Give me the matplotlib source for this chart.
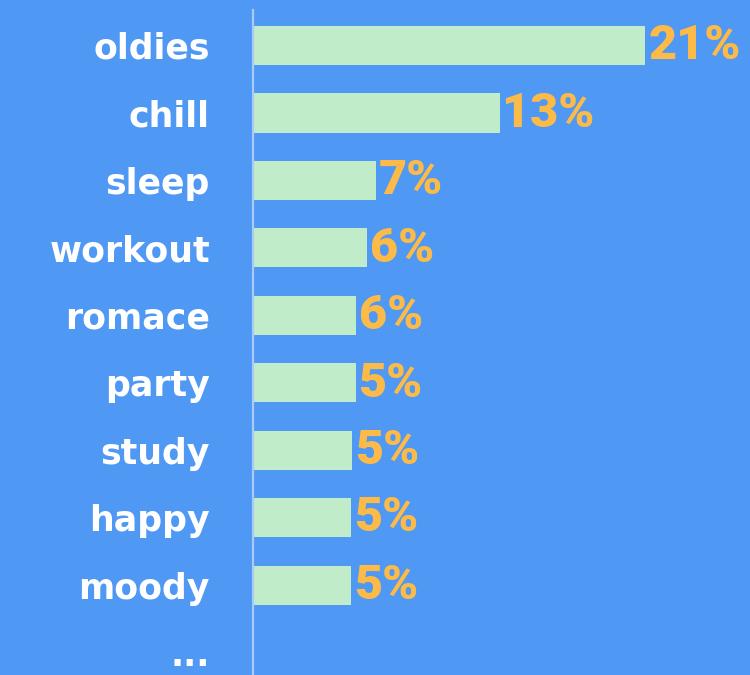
import matplotlib
matplotlib.use('Agg')
import matplotlib.pyplot as plt

moods = ['oldies', 'chill', 'sleep', 'workout', 'romace', 'party', 'study', 'happy', 'moody']
shares = [21.0, 13.2, 6.6, 6.1, 5.5, 5.5, 5.3, 5.25, 5.25]
share_labels = ['21%', '13%', '7%', '6%', '6%', '5%', '5%', '5%', '5%']

bg = '#4f98f3'
bar_color = '#c1ecc9'
label_color = '#fcba48'

fig = plt.figure(figsize=(7.5, 6.75), dpi=100, facecolor=bg)
ax = fig.add_axes([253 / 750, 0, 497 / 750, 665 / 675], facecolor=bg)

ypos = list(range(len(moods)))
ax.barh(ypos, shares, height=0.58, color=bar_color)

for y, v, lab in zip(ypos, shares, share_labels):
    ax.annotate(lab, (v, y), xytext=(2, -0.5), textcoords='offset points',
                va='center', ha='left', color=label_color,
                fontsize=35, fontweight='black', family=['Roboto', 'DejaVu Sans'])

ax.set_xlim(0, 26.6)
ax.set_ylim(9.33, -0.526)

ax.set_yticks(ypos + [len(moods)])
ax.set_yticklabels(moods + ['...'], color='white', fontsize=25,
                   fontweight='bold', family='DejaVu Sans')
ax.tick_params(axis='y', length=0, pad=31)
ax.set_xticks([])

for side in ['top', 'right', 'bottom']:
    ax.spines[side].set_visible(False)
ax.spines['left'].set_color('#a9cbf6')
ax.spines['left'].set_linewidth(1.6)

fig.savefig('out.png', dpi=100, facecolor=bg)
